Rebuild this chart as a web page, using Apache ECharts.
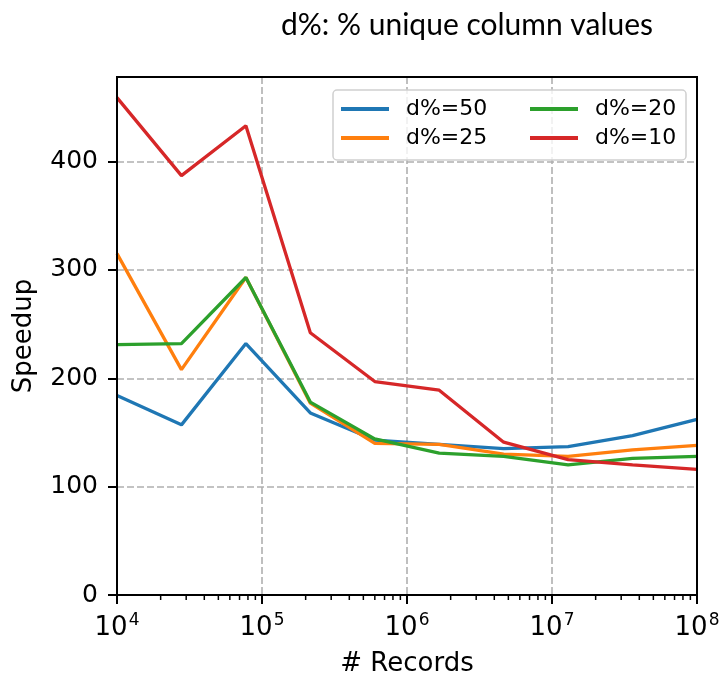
<!DOCTYPE html>
<html>
<head>
<meta charset="utf-8">
<script src="https://cdn.jsdelivr.net/npm/echarts@6/dist/echarts.min.js"></script>
<style>
  html, body { margin: 0; padding: 0; background: #fff; }
  #chart { width: 722px; height: 676px; }
</style>
</head>
<body>
<div id="chart"></div>
<script>
// number of records (x, log scale)
var records = [1e4, 27826, 77426, 215443, 599484, 1668101, 4641589, 12915497, 35938137, 1e8];

// speedup per d%
var d50 = [184, 157, 232, 168, 143, 139, 135, 137, 147, 162];
var d25 = [315, 208, 293, 177, 140, 139, 130, 128, 134, 138];
var d20 = [231, 232, 293, 178, 144, 131, 128, 120, 126, 128];
var d10 = [459, 387, 433, 242, 197, 189, 141, 125, 120, 116];

var seriesNames = ['d%=50', 'd%=25', 'd%=20', 'd%=10'];
var colors = ['#1f77b4', '#ff7f0e', '#2ca02c', '#d62728'];

// minor ticks of the log axis: 2..9 x 10^n
var minorTicks = [];
for (var e = 4; e < 8; e++) {
  for (var m = 2; m <= 9; m++) minorTicks.push([m * Math.pow(10, e), 0]);
}

function pairs(ys) {
  return ys.map(function (y, i) { return [records[i], y]; });
}

var chart = echarts.init(document.getElementById('chart'));
var font = 'DejaVu Sans';
var gridLine = { show: true, lineStyle: { color: '#b0b0b0', width: 1.6, type: [7, 3] } };

var option = {
  backgroundColor: '#fff',
  animation: false,
  color: colors,
  title: {
    text: 'd%: % unique column values',
    left: 462,
    top: 5,
    textAlign: 'center',
    textStyle: { fontFamily: 'Lato', fontWeight: 'normal', fontSize: 30, color: '#000' }
  },
  grid: { left: 117, right: 25, top: 77, bottom: 81, outerBoundsMode: 'none' },
  legend: [{
    orient: 'vertical',
    left: 336, top: 93,
    itemWidth: 48, itemHeight: 4, itemGap: 7,
    icon: 'rect',
    textStyle: { fontFamily: font, fontSize: 22, color: '#000', padding: [0, 0, 0, 12] },
    data: ['d%=50', 'd%=25']
  }, {
    orient: 'vertical',
    left: 525, top: 93,
    itemWidth: 48, itemHeight: 4, itemGap: 7,
    icon: 'rect',
    textStyle: { fontFamily: font, fontSize: 22, color: '#000', padding: [0, 0, 0, 12] },
    data: ['d%=20', 'd%=10']
  }],
  graphic: [{
    type: 'rect',
    shape: { x: 333, y: 90, width: 353, height: 70, r: 4 },
    style: { fill: 'rgba(255,255,255,0.8)', stroke: '#d0d0d0', lineWidth: 1.5 },
    z: 3
  }, {
    // axes frame
    type: 'rect',
    shape: { x: 117, y: 77, width: 580, height: 518 },
    style: { fill: 'none', stroke: '#000', lineWidth: 2 },
    z: 10
  }],
  xAxis: {
    type: 'log',
    logBase: 10,
    min: 1e4,
    max: 1e8,
    name: '# Records',
    nameLocation: 'middle',
    nameGap: 56,
    nameTextStyle: { fontFamily: font, fontSize: 26, color: '#000' },
    axisLine: { lineStyle: { color: '#000', width: 2 } },
    axisTick: { length: 9, lineStyle: { color: '#000', width: 2 } },
    axisLabel: {
      margin: 17,
      formatter: function (v) {
        return '{b|10}{s|' + Math.round(Math.log10(v)) + '}';
      },
      rich: {
        b: { fontFamily: font, fontSize: 26, color: '#000' },
        s: { fontFamily: font, fontSize: 17, color: '#000', verticalAlign: 'bottom', padding: [0, 0, 15, 1] }
      }
    },
    splitLine: gridLine
  },
  yAxis: {
    type: 'value',
    min: 0,
    max: 478,
    interval: 100,
    name: 'Speedup',
    nameLocation: 'middle',
    nameGap: 80,
    nameTextStyle: { fontFamily: font, fontSize: 26, color: '#000' },
    axisLine: { show: true, lineStyle: { color: '#000', width: 2 } },
    axisTick: { show: true, length: 9, lineStyle: { color: '#000', width: 2 } },
    axisLabel: {
      margin: 19,
      fontFamily: font, fontSize: 25, color: '#000',
      showMaxLabel: false
    },
    splitLine: gridLine
  },
  series: [
    { name: seriesNames[0], type: 'line', data: pairs(d50), symbol: 'none', lineStyle: { width: 3.3 } },
    { name: seriesNames[1], type: 'line', data: pairs(d25), symbol: 'none', lineStyle: { width: 3.3 } },
    { name: seriesNames[2], type: 'line', data: pairs(d20), symbol: 'none', lineStyle: { width: 3.3 } },
    { name: seriesNames[3], type: 'line', data: pairs(d10), symbol: 'none', lineStyle: { width: 3.3 } },
    {
      name: 'minor',
      type: 'custom',
      clip: false,
      silent: true,
      data: minorTicks,
      renderItem: function (params, api) {
        var p = api.coord([api.value(0), api.value(1)]);
        return {
          type: 'line',
          shape: { x1: p[0], y1: p[1], x2: p[0], y2: p[1] + 5 },
          style: { stroke: '#000', lineWidth: 1.5 }
        };
      }
    }
  ]
};

chart.setOption(option);
</script>
</body>
</html>
